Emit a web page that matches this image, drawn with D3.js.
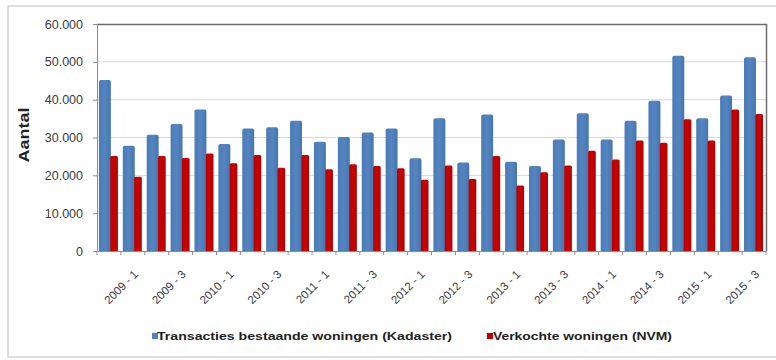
<!DOCTYPE html>
<html>
<head>
<meta charset="utf-8">
<script src="https://cdn.jsdelivr.net/npm/d3@7"></script>
<style>
  html, body { margin: 0; padding: 0; background: #fff; }
  svg { display: block; }
  text { font-family: Arial, "Liberation Sans", sans-serif; }
</style>
</head>
<body>
<svg id="chart" width="776" height="360"></svg>
<script>
const categories = ["2008 - 4",
  "2009 - 1","2009 - 2","2009 - 3","2009 - 4",
  "2010 - 1","2010 - 2","2010 - 3","2010 - 4",
  "2011 - 1","2011 - 2","2011 - 3","2011 - 4",
  "2012 - 1","2012 - 2","2012 - 3","2012 - 4",
  "2013 - 1","2013 - 2","2013 - 3","2013 - 4",
  "2014 - 1","2014 - 2","2014 - 3","2014 - 4",
  "2015 - 1","2015 - 2","2015 - 3"];
const kadaster = [45200, 27800, 30700, 33600, 37400, 28300, 32400, 32700, 34400, 28900, 30100, 31300, 32400,
  24500, 35100, 23400, 36100, 23600, 22500, 29500, 36400, 29500, 34400, 39700, 51600, 35100, 41100, 51200];
const nvm = [25100, 19600, 25100, 24600, 25800, 23200, 25400, 22000, 25400, 21600, 22900, 22500, 21900,
  18800, 22600, 19000, 25100, 17300, 20800, 22600, 26500, 24200, 29200, 28600, 34800, 29200, 37400, 36200];
const yTicks = [0, 10000, 20000, 30000, 40000, 50000, 60000];
const shownLabels = categories.filter((c, i) => i % 2 === 1);
const seriesNames = ["Transacties bestaande woningen (Kadaster)", "Verkochte woningen (NVM)"];
const yTitle = "Aantal";

const svg = d3.select("#chart");
const L = 97, R = 766, T = 24, B = 251;

// outer frame
svg.append("rect").attr("x", 8).attr("y", 6).attr("width", 775).attr("height", 351)
  .attr("fill", "#fff").attr("stroke", "#d4d4d4").attr("stroke-width", 1.5);

const x = d3.scaleBand().domain(categories).range([L, R]).paddingInner(0).paddingOuter(0);
const y = d3.scaleLinear().domain([0, 60000]).range([B, T]);
const bw = x.bandwidth();

// gridlines
svg.append("g").selectAll("line").data(yTicks.filter(t => t > 0 && t < 60000)).join("line")
  .attr("x1", L).attr("x2", R).attr("y1", d => y(d)).attr("y2", d => y(d))
  .attr("stroke", "#d9d9d9").attr("stroke-width", 1);

// bars
const blue = "#4f81bd", red = "#c00000";
const defs = svg.append("defs");
const gB = defs.append("linearGradient").attr("id", "gb").attr("x1", 0).attr("x2", 1).attr("y1", 0).attr("y2", 0);
gB.append("stop").attr("offset", "0").attr("stop-color", "#4a7bb7");
gB.append("stop").attr("offset", "0.5").attr("stop-color", "#5585c0");
gB.append("stop").attr("offset", "1").attr("stop-color", "#4676b0");
const gR = defs.append("linearGradient").attr("id", "gr").attr("x1", 0).attr("x2", 1).attr("y1", 0).attr("y2", 0);
gR.append("stop").attr("offset", "0").attr("stop-color", "#b80000");
gR.append("stop").attr("offset", "0.5").attr("stop-color", "#c80404");
gR.append("stop").attr("offset", "1").attr("stop-color", "#b00000");

svg.append("g").selectAll("path").data(categories).join("path")
  .attr("d", (c, i) => {
    const x0 = x(c) + bw * 0.08, w = bw * 0.5, y0 = y(kadaster[i]), r = 2;
    return `M${x0},${B}V${y0 + r}Q${x0},${y0} ${x0 + r},${y0}H${x0 + w - r}Q${x0 + w},${y0} ${x0 + w},${y0 + r}V${B}Z`;
  })
  .attr("fill", "url(#gb)");
svg.append("g").selectAll("path").data(categories).join("path")
  .attr("d", (c, i) => {
    const x0 = x(c) + bw * 0.555, w = bw * 0.32, y0 = y(nvm[i]), r = 1.5;
    return `M${x0},${B}V${y0 + r}Q${x0},${y0} ${x0 + r},${y0}H${x0 + w - r}Q${x0 + w},${y0} ${x0 + w},${y0 + r}V${B}Z`;
  })
  .attr("fill", "url(#gr)");

// plot border top & right
svg.append("path").attr("d", `M${L},${T + 0.5}H${R + 0.5}V${B}`)
  .attr("fill", "none").attr("stroke", "#6e6e6e").attr("stroke-width", 1.5);

// y axis
const yAxis = d3.axisLeft(y).tickValues(yTicks).tickSize(4).tickPadding(10)
  .tickFormat(d => d === 0 ? "0" : d3.format(",")(d).replace(/,/g, "."));
const gy = svg.append("g").attr("transform", `translate(${L},0)`).call(yAxis);
gy.select(".domain").attr("stroke", "#8c8c8c");
gy.selectAll(".tick line").attr("stroke", "#8c8c8c");
gy.selectAll(".tick text").attr("font-size", "12.5px").attr("fill", "#3a3a3a")
  .attr("font-family", "Arial, 'Liberation Sans', sans-serif");

// x axis
const xAxis = d3.axisBottom(x).tickSize(0).tickFormat("");
const gx = svg.append("g").attr("transform", `translate(0,${B})`).call(xAxis);
gx.select(".domain").attr("stroke", "#8c8c8c");
gx.selectAll(".tick").remove();
svg.append("g").selectAll("line").data(categories.concat(["__end"])).join("line")
  .attr("x1", (c, i) => L + i * bw).attr("x2", (c, i) => L + i * bw)
  .attr("y1", B).attr("y2", B + 4).attr("stroke", "#8c8c8c");

svg.append("g").selectAll("text").data(shownLabels).join("text")
  .attr("transform", c => `translate(${x(c) + bw / 2 + 6},${B + 24}) rotate(-45)`)
  .attr("text-anchor", "end").attr("font-size", "11.5px").attr("fill", "#3a3a3a")
  .text(c => c);

// y title
svg.append("text").attr("transform", `translate(29,135) rotate(-90)`)
  .attr("text-anchor", "middle").attr("font-size", "14.5px").attr("font-weight", "bold")
  .attr("fill", "#222").attr("textLength", 55).attr("lengthAdjust", "spacingAndGlyphs")
  .text(yTitle);

// legend
const legend = [
  { name: seriesNames[0], color: blue, sx: 152, tx: 157, tw: 295 },
  { name: seriesNames[1], color: red, sx: 487, tx: 493, tw: 179 }
];
const lg = svg.append("g");
legend.forEach(l => {
  lg.append("rect").attr("x", l.sx).attr("y", 333).attr("width", 6).attr("height", 6).attr("fill", l.color);
  lg.append("text").attr("x", l.tx).attr("y", 340).attr("font-size", "11px").attr("font-weight", "bold")
    .attr("fill", "#222").attr("textLength", l.tw).attr("lengthAdjust", "spacingAndGlyphs").text(l.name);
});
</script>
</body>
</html>
